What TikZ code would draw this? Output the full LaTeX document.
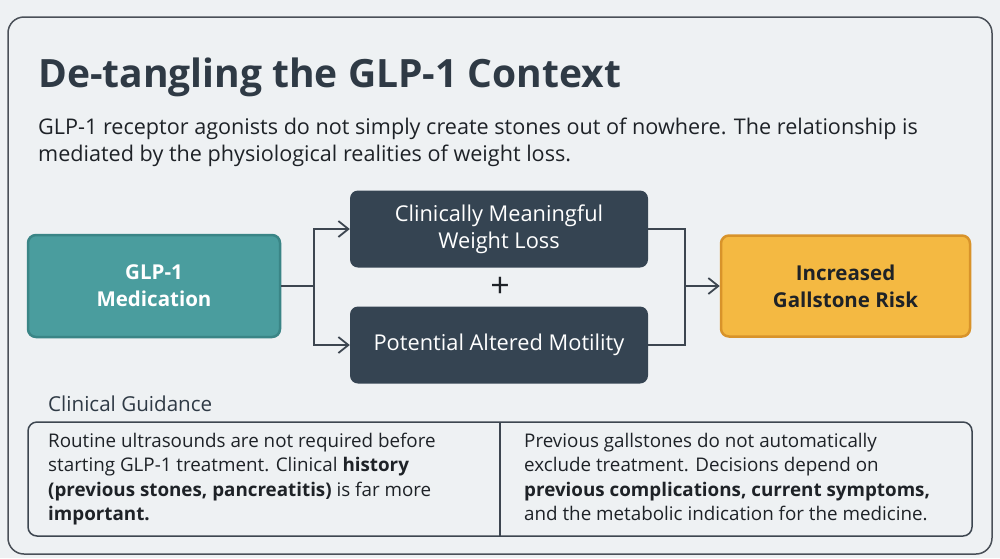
\documentclass[tikz,border=0pt]{standalone}
\usepackage{fontspec}
\setmainfont{Open Sans}
\usetikzlibrary{arrows.meta,positioning}
\definecolor{bgc}{HTML}{EEF1F3}
\definecolor{framec}{HTML}{4A5058}
\definecolor{titlec}{HTML}{2F3A45}
\definecolor{textc}{HTML}{1E2227}
\definecolor{tealf}{HTML}{4A9D9E}
\definecolor{tealb}{HTML}{3A8586}
\definecolor{darkf}{HTML}{354452}
\definecolor{orf}{HTML}{F4B942}
\definecolor{orb}{HTML}{D8932A}
\definecolor{linec}{HTML}{3D4650}
\tikzset{
  box/.style={rounded corners=8pt, minimum width=#1, align=center, inner sep=0pt},
  medbox/.style={box=252pt, minimum height=102pt, fill=tealf, draw=tealb, line width=2.5pt, text=white, font=\fontsize{20.5}{27}\selectfont\bfseries},
  darkbox/.style={box=298pt, minimum height=77pt, fill=darkf, text=white, font=\fontsize{21.8}{27}\selectfont},
  riskbox/.style={box=249pt, minimum height=101pt, fill=orf, draw=orb, line width=2.5pt, text=textc, font=\fontsize{20.5}{27}\selectfont\bfseries},
  conn/.style={draw=linec, line width=1.8pt},
  arr/.style={conn, -{Straight Barb[length=10pt, width=16pt, line width=1.8pt]}},
  para/.style={anchor=north west, align=left, text=textc, inner sep=0pt, font=\fontsize{18.8}{24.4}\selectfont}
}
\begin{document}
\begin{tikzpicture}[x=1pt, y=-1pt]
\useasboundingbox[fill=bgc] (0,0) rectangle (1000,558);
\draw[framec, line width=1.5pt, rounded corners=16pt] (8,17) rectangle (992,554);
\node[anchor=base west, inner sep=0pt, text=titlec, font=\fontsize{39}{48}\selectfont\bfseries] (title) at (38,87) {De-tangling the GLP-1 Context};
\node[anchor=north west, align=left, inner sep=0pt, text=textc, font=\fontsize{21.6}{27}\selectfont] (intro) at (38,118) {GLP-1 receptor agonists do not simply create stones out of nowhere. The relationship is\\ mediated by the physiological realities of weight loss.};

\node[medbox] (med) at (154,286) {GLP-1\\Medication};
\node[darkbox] (wl) at (499,229) {Clinically Meaningful\\Weight Loss};
\node[darkbox] (mot) at (499,345) {Potential Altered Motility};
\node[riskbox] (risk) at (845.5,286) {Increased\\Gallstone Risk};
\node[text=textc, font=\fontsize{34}{34}\selectfont] (plus) at (500,287) {+};

\coordinate (ja) at (314,286);
\coordinate (jb) at (685,286);
\draw[conn] (med.east) -- (ja);
\draw[arr] (ja) |- (wl.west);
\draw[arr] (ja) |- (mot.west);
\draw[conn] (wl.east) -| (jb);
\draw[conn] (mot.east) -| (jb);
\draw[arr] (jb) -- (risk.west);

\node[anchor=base west, inner sep=0pt, text=titlec, font=\fontsize{20.6}{22}\selectfont] (cg) at (48,411) {Clinical Guidance};
\draw[linec, line width=1.5pt, rounded corners=9pt] (28,422) rectangle (972,536);
\draw[linec, line width=1.5pt] (500,422) -- (500,536);
\node[para] (left) at (48,433) {Routine ultrasounds are not required before\\ starting GLP-1 treatment. Clinical \textbf{history}\\ \textbf{(previous stones, pancreatitis)} is far more\\ \textbf{important.}};
\node[para] (right) at (524,433) {Previous gallstones do not automatically\\ exclude treatment. Decisions depend on\\ \textbf{previous complications, current symptoms,}\\ and the metabolic indication for the medicine.};
\end{tikzpicture}
\end{document}
